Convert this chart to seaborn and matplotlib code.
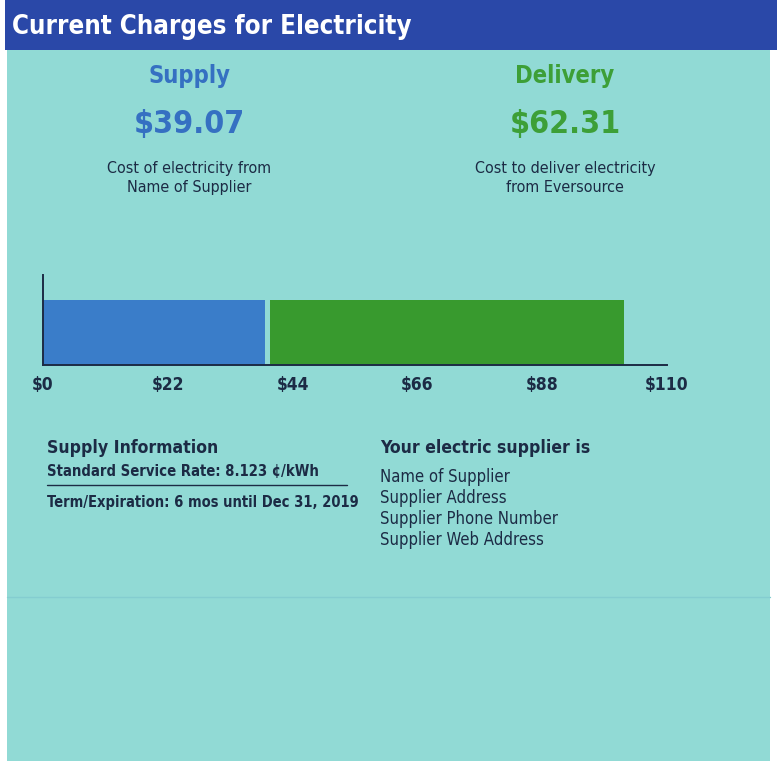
import pandas as pd
import seaborn as sns
import matplotlib.pyplot as plt
from matplotlib.patches import Rectangle
from matplotlib.lines import Line2D


CATEGORIES = ["Supply", "Delivery"]
AMOUNTS = [39.07, 62.31]
TICKS = [0, 22, 44, 66, 88, 110]
TICK_LABELS = ["$0", "$22", "$44", "$66", "$88", "$110"]
SUBTITLES = ["Cost of electricity from\nName of Supplier",
             "Cost to deliver electricity\nfrom Eversource"]
SUPPLIER_LINES = ["Name of Supplier", "Supplier Address",
                  "Supplier Phone Number", "Supplier Web Address"]
RATE = "8.123"
TERM = "6 mos until Dec 31, 2019"

BG = "#91dad5"
NAVY = "#1c2b45"
COLORS = {"Supply": "#3a7dc9", "Delivery": "#389a2e"}
TEXT_COLORS = {"Supply": "#3570c2", "Delivery": "#3d9f37"}
OUT_PATH = "out.png"


def main():
    sns.set_theme(style="white")
    plt.rcParams["font.family"] = ["DejaVu Sans"]
    plt.rcParams["font.stretch"] = "condensed"

    W, H = 777, 761
    fig = plt.figure(figsize=(W / 100, H / 100), dpi=100)
    fig.patch.set_facecolor("white")

    def fx(px):
        return px / W

    def fy(py):
        return 1 - py / H

    # panel background and title bar
    fig.add_artist(Rectangle((fx(7), 0), fx(763), fy(50), transform=fig.transFigure,
                             facecolor=BG, edgecolor="none", zorder=0))
    fig.add_artist(Rectangle((fx(5), fy(50)), fx(772), 50 / H, transform=fig.transFigure,
                             facecolor="#2a48a8", edgecolor="none", zorder=0))
    fig.text(fx(12), fy(27), "Current Charges for Electricity", color="white",
             fontsize=18.5, fontweight="bold", va="center", ha="left")

    # headline amounts
    for cat, amt, sub, cx in zip(CATEGORIES, AMOUNTS, SUBTITLES, [189, 565]):
        fig.text(fx(cx), fy(76), cat, color=TEXT_COLORS[cat], fontsize=17,
                 fontweight="bold", ha="center", va="center")
        fig.text(fx(cx), fy(124), f"${amt:.2f}", color=TEXT_COLORS[cat], fontsize=23,
                 fontweight="bold", ha="center", va="center")
        fig.text(fx(cx), fy(178), sub, color=NAVY, fontsize=11.5,
                 ha="center", va="center", linespacing=1.4)

    # stacked bar
    ax = fig.add_axes([fx(43), fy(365), fx(624), 90 / H])
    ax.set_facecolor("none")
    df = pd.DataFrame({"cat": ["total"], "supply": [AMOUNTS[0]], "delivery": [AMOUNTS[1]]})
    sns.barplot(data=df, x="supply", y="cat", color=COLORS["Supply"], width=0.8,
                saturation=1, edgecolor="none", ax=ax)
    sns.barplot(data=df, x="delivery", y="cat", color=COLORS["Delivery"], width=0.8,
                saturation=1, left=df["supply"] + 1.0, edgecolor="none", ax=ax)
    ax.set_xlim(0, 110)
    ax.set_ylim(0.4, -0.71)
    ax.set_xticks(TICKS)
    ax.set_xticklabels(TICK_LABELS, fontsize=12.5, fontweight="bold", color=NAVY)
    ax.set_yticks([])
    ax.set_xlabel("")
    ax.set_ylabel("")
    ax.tick_params(axis="x", length=0, pad=8)
    for side in ["top", "right"]:
        ax.spines[side].set_visible(False)
    for side in ["left", "bottom"]:
        ax.spines[side].set_color(NAVY)
        ax.spines[side].set_linewidth(1.4)

    # supply information block
    fig.text(fx(47), fy(448), "Supply Information", color=NAVY, fontsize=12.6,
             fontweight="bold", va="center")
    fig.text(fx(47), fy(472), f"Standard Service Rate: {RATE} ¢/kWh", color=NAVY,
             fontsize=10.6, fontweight="bold", va="center")
    fig.add_artist(Line2D([fx(47), fx(347)], [fy(485), fy(485)], color=NAVY,
                          linewidth=1, transform=fig.transFigure))
    fig.text(fx(47), fy(502), f"Term/Expiration: {TERM}", color=NAVY,
             fontsize=10.5, fontweight="bold", va="center")

    fig.text(fx(380), fy(448), "Your electric supplier is", color=NAVY, fontsize=12.6,
             fontweight="bold", va="center")
    for i, line in enumerate(SUPPLIER_LINES):
        fig.text(fx(380), fy(477 + 21 * i), line, color=NAVY, fontsize=12, va="center")

    fig.add_artist(Line2D([fx(7), fx(770)], [fy(597), fy(597)], color="#84cdd0",
                          linewidth=1, transform=fig.transFigure))

    fig.savefig(OUT_PATH, dpi=100, facecolor=fig.get_facecolor())
    print(f"saved to {OUT_PATH}")


if __name__ == "__main__":
    main()
